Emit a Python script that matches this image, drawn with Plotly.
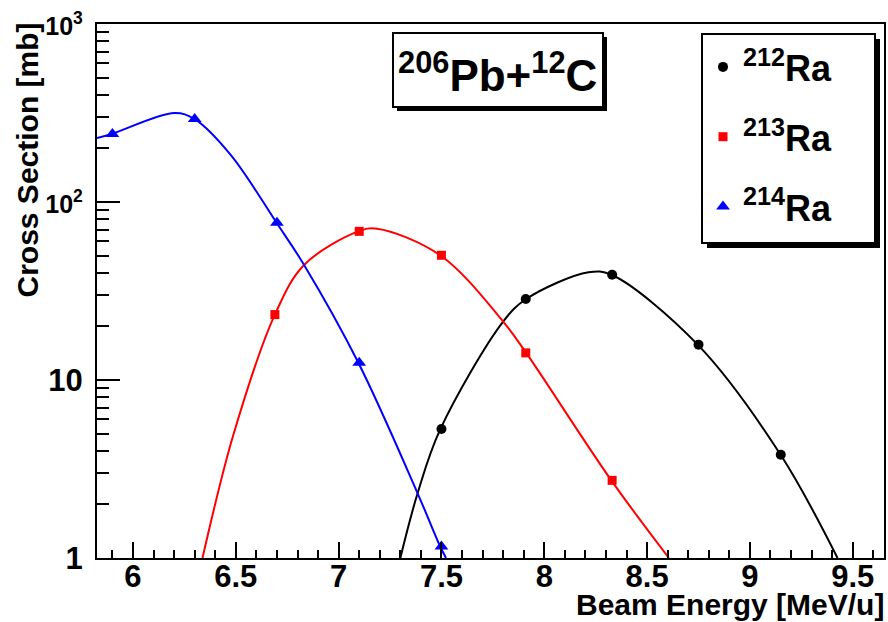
import plotly.graph_objects as go

# ---------------- data ----------------
E_212 = [7.50, 7.91, 8.33, 8.75, 9.15]
XS_212 = [5.3, 28.5, 39.0, 15.8, 3.8]

E_213 = [6.69, 7.10, 7.50, 7.91, 8.33]
XS_213 = [23.3, 68.4, 50.2, 14.2, 2.73]

E_214 = [5.90, 6.30, 6.70, 7.10, 7.50]
XS_214 = [241, 293, 76.5, 12.5, 1.16]

# smooth curves
CURVE_E_212 = [7.30, 7.384, 7.494, 7.80, 7.912, 8.215, 8.326, 8.746, 9.150, 9.426]
CURVE_XS_212 = [1.0, 2.31, 5.28, 21.3, 28.5, 40.3, 39.0, 15.8, 3.79, 1.0]

CURVE_E_213 = [6.338, 6.49, 6.690, 6.832, 7.096, 7.187, 7.494, 7.80, 7.912, 8.326, 8.606]
CURVE_XS_213 = [1.0, 5.0, 23.3, 44.3, 68.4, 70.8, 50.2, 21.3, 14.2, 2.73, 1.0]

CURVE_E_214 = [5.825, 5.896, 6.201, 6.298, 6.475, 6.698, 6.832, 7.096, 7.384, 7.494, 7.522]
CURVE_XS_214 = [229, 241, 316, 293, 184, 76.5, 44.3, 12.5, 2.31, 1.16, 1.0]

SERIES_NAMES = ["<sup>212</sup>Ra", "<sup>213</sup>Ra", "<sup>214</sup>Ra"]
TITLE_TEXT = "<sup>206</sup>Pb+<sup>12</sup>C"
X_TITLE = "Beam Energy [MeV/u]"
Y_TITLE = "Cross Section [mb]"
X_TICKS = [6, 6.5, 7, 7.5, 8, 8.5, 9, 9.5]
Y_TICKS = [1, 10, 100, 1000]
Y_TICK_TEXT = ["1", "10", "10<sup>2</sup>", "10<sup>3</sup>"]

# ---------------- layout geometry ----------------
W, H = 888, 622
ML, MR, MT, MB = 97, 4, 24, 64
PW, PH = W - ML - MR, H - MT - MB


def px(xp):
    return (xp - ML) / PW


def py(yp):
    return (H - MB - yp) / PH


FONT = "Liberation Sans, Arial, sans-serif"

fig = go.Figure()

curves = [
    (CURVE_E_212, CURVE_XS_212, "black"),
    (CURVE_E_213, CURVE_XS_213, "red"),
    (CURVE_E_214, CURVE_XS_214, "blue"),
]
for xs, ys, col in curves:
    fig.add_trace(go.Scatter(x=xs, y=ys, mode="lines",
                             line=dict(color=col, width=2, shape="spline", smoothing=1.0),
                             showlegend=False, hoverinfo="skip"))

points = [
    (E_212, XS_212, "black", "circle", 10, SERIES_NAMES[0]),
    (E_213, XS_213, "red", "square", 9, SERIES_NAMES[1]),
    (E_214, XS_214, "blue", "triangle-up", 12, SERIES_NAMES[2]),
]
for i, (xs, ys, col, sym, sz, name) in enumerate(points):
    fig.add_trace(go.Scatter(x=xs, y=ys, mode="markers", name=name,
                             marker=dict(color=col, symbol=sym, size=sz, line=dict(width=0)),
                             legendgroup=f"g{i}", showlegend=True))

minor_y = [m * 10 ** d for d in range(0, 3) for m in range(2, 10)]
ytext = [t if "sup" not in t else f'<span style="font-size:25px">{t}</span>' for t in Y_TICK_TEXT]

fig.update_xaxes(range=[5.825, 9.652], showgrid=False, zeroline=False,
                 showline=True, linecolor="black", linewidth=2, mirror=True,
                 tickmode="array", tickvals=X_TICKS, ticktext=[f"{v:g}" for v in X_TICKS],
                 ticks="inside", ticklen=16, tickwidth=2, tickcolor="black",
                 ticklabelstandoff=-10,
                 tickfont=dict(size=31, color="black", family=FONT, weight="bold"),
                 minor=dict(dtick=0.1, tick0=0, ticks="inside", ticklen=8, tickwidth=2,
                            tickcolor="black", showgrid=False))
fig.update_yaxes(type="log", range=[0, 3], showgrid=False, zeroline=False,
                 showline=True, linecolor="black", linewidth=2, mirror=True,
                 tickmode="array", tickvals=Y_TICKS, ticktext=ytext,
                 ticks="inside", ticklen=23, tickwidth=2, tickcolor="black",
                 ticklabelstandoff=6,
                 tickfont=dict(size=31, color="black", family=FONT, weight="bold"),
                 minor=dict(tickmode="array", tickvals=minor_y, ticks="inside", ticklen=12,
                            tickwidth=2, tickcolor="black", showgrid=False))

shapes = [
    # title box shadow and box
    dict(type="rect", xref="paper", yref="paper", x0=px(397), x1=px(607), y0=py(111), y1=py(37),
         fillcolor="black", line=dict(width=0), layer="above"),
    dict(type="rect", xref="paper", yref="paper", x0=px(393), x1=px(603), y0=py(107), y1=py(33),
         fillcolor="white", line=dict(color="black", width=2), layer="above"),
    # legend shadow and box
    dict(type="rect", xref="paper", yref="paper", x0=px(707), x1=px(880), y0=py(248), y1=py(39),
         fillcolor="black", line=dict(width=0), layer="above"),
    dict(type="rect", xref="paper", yref="paper", x0=px(702), x1=px(875), y0=py(243), y1=py(34),
         fillcolor="white", line=dict(color="black", width=2), layer="above"),
]

annotations = [
    dict(text=TITLE_TEXT, xref="paper", yref="paper", x=px(498), y=py(72),
         xanchor="center", yanchor="middle", showarrow=False,
         font=dict(size=44, color="black", family=FONT, weight="bold")),
    dict(text=X_TITLE, xref="paper", yref="paper", x=px(886), y=py(604),
         xanchor="right", yanchor="middle", showarrow=False,
         font=dict(size=30, color="black", family=FONT, weight="bold")),
    dict(text=Y_TITLE, xref="paper", yref="paper", x=px(27), y=py(21),
         xanchor="center", yanchor="top", showarrow=False, textangle=-90,
         font=dict(size=30, color="black", family=FONT, weight="bold")),
]

fig.update_layout(
    width=W, height=H,
    margin=dict(l=ML, r=MR, t=MT, b=MB, autoexpand=False),
    paper_bgcolor="white", plot_bgcolor="white",
    font=dict(family=FONT, color="black", weight="bold"),
    shapes=shapes, annotations=annotations,
    showlegend=True,
    legend=dict(x=px(703), y=py(37), xanchor="left", yanchor="top",
                bgcolor="rgba(0,0,0,0)", borderwidth=0, tracegroupgap=20,
                font=dict(size=36, color="black", family=FONT, weight="bold")),
)

fig.write_html("out.html")
